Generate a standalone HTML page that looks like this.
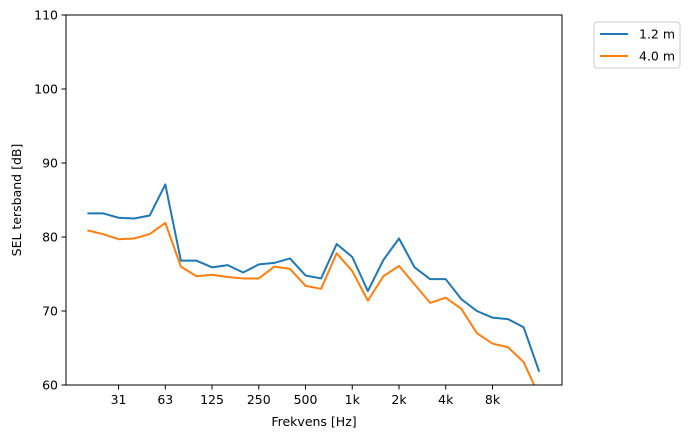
<!DOCTYPE html>
<html><head><meta charset="utf-8"><style>
body{margin:0;background:#fff;font-family:"Liberation Sans","DejaVu Sans",sans-serif}
svg text{font-family:"DejaVu Sans","Liberation Sans",sans-serif;font-size:12.5px;fill:#000}
</style></head><body>
<svg id="chart" width="693" height="438" xmlns="http://www.w3.org/2000/svg">
<defs><clipPath id="clip"><rect x="66" y="15" width="496" height="370"/></clipPath></defs>
<g id="plot" clip-path="url(#clip)"></g>
<rect x="66" y="15" width="496" height="370" fill="none" stroke="#000" stroke-width="1"/>
<g id="axes"></g>
<text x="314" y="426" text-anchor="middle">Frekvens [Hz]</text>
<text transform="translate(21,200) rotate(-90)" text-anchor="middle">SEL tersband [dB]</text>
<g>
<rect x="594" y="22" width="86" height="46" rx="3" fill="#fff" stroke="#ccc"/>
<line x1="600" y1="34" x2="628" y2="34" stroke="#1f77b4" stroke-width="2"/>
<text x="639" y="38.5">1.2 m</text>
<line x1="600" y1="56" x2="628" y2="56" stroke="#ff7f0e" stroke-width="2"/>
<text x="639" y="60.5">4.0 m</text>
</g>
</svg>
<script>
const bandIndex = Array.from({length:30},(_,i)=>i);
const series12 = [83.2,83.2,82.6,82.5,82.9,87.1,76.8,76.8,75.9,76.2,75.2,76.3,76.5,77.1,74.8,74.4,79.05,77.3,72.7,76.9,79.8,75.9,74.3,74.3,71.6,70.0,69.1,68.9,67.8,61.8];
const series40 = [80.9,80.4,79.7,79.8,80.4,81.9,76.0,74.7,74.9,74.6,74.4,74.4,76.0,75.7,73.4,73.0,77.8,75.4,71.4,74.7,76.1,73.6,71.1,71.8,70.3,67.0,65.6,65.1,63.1,58.5];
const xTickIdx = [2,5,8,11,14,17,20,23,26];
const xTickLabels = ["31","63","125","250","500","1k","2k","4k","8k"];
const yTicks = [60,70,80,90,100,110];
const NS="http://www.w3.org/2000/svg";
const X=i=>87.4+i*15.58;
const Y=v=>385-(v-60)*7.4;
const plot=document.getElementById('plot'), axes=document.getElementById('axes');
function mk(t,a,p){const e=document.createElementNS(NS,t);for(const k in a)e.setAttribute(k,a[k]);p.appendChild(e);return e;}
[[series12,'#1f77b4','line-1.2m'],[series40,'#ff7f0e','line-4.0m']].forEach(([s,c,n])=>{
  const el=mk('polyline',{points:s.map((v,i)=>X(bandIndex[i])+','+Y(v)).join(' '),fill:'none',stroke:c,'stroke-width':2,'stroke-linejoin':'round'},plot);
  
  
});
xTickIdx.forEach((i,k)=>{
  const x=X(i);
  const t=mk('line',{x1:x,y1:385,x2:x,y2:389.5,stroke:'#000'},axes);
  
  
  const l=mk('text',{x:x,y:404,'text-anchor':'middle'},axes);l.textContent=xTickLabels[k];
  
  
});
yTicks.forEach(v=>{
  const y=Y(v);
  const t=mk('line',{x1:61.5,y1:y,x2:66,y2:y,stroke:'#000'},axes);
  
  
  const l=mk('text',{x:58,y:y+4.5,'text-anchor':'end'},axes);l.textContent=v;
  
  
});
</script>
</body></html>
